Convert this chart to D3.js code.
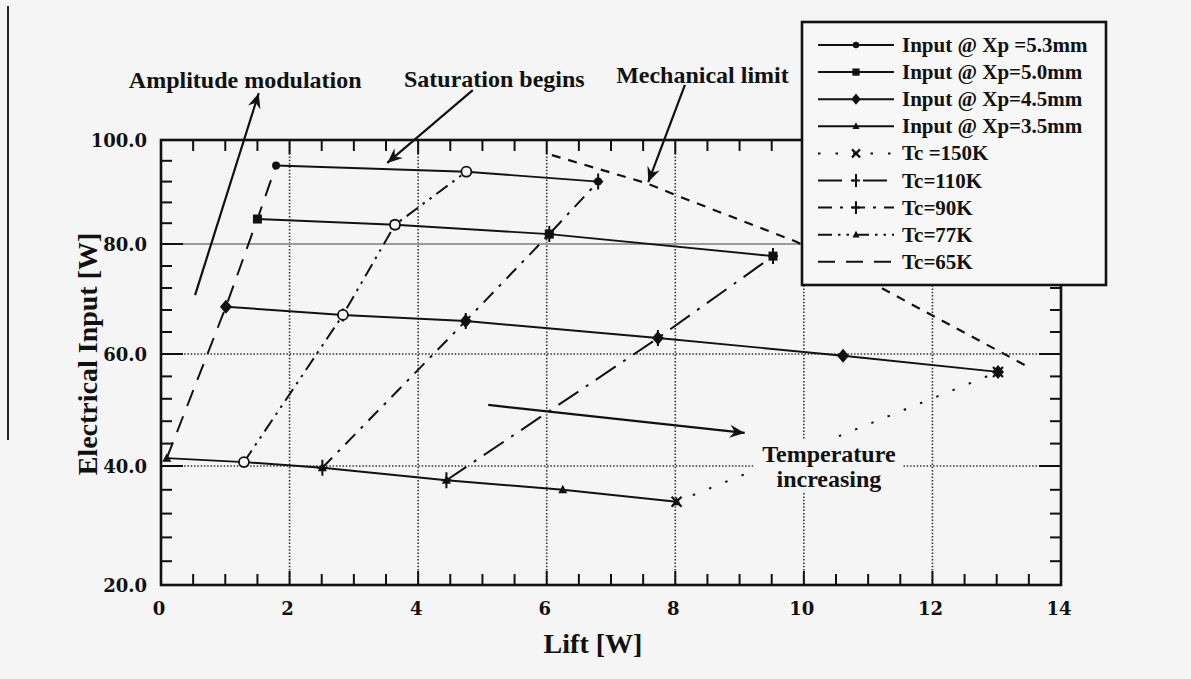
<!DOCTYPE html>
<html><head><meta charset="utf-8">
<script src="https://cdn.jsdelivr.net/npm/d3@7"></script>
<style>body{margin:0;background:#f5f5f5}svg{display:block}</style>
</head><body>
<svg id="c" width="1191" height="679"></svg>
<script>
// ---------- data ----------
const xTicks = [0, 2, 4, 6, 8, 10, 12, 14];
const xTickLabels = ["0", "2", "4", "6", "8", "10", "12", "14"];
const yTicks = [20, 40, 60, 80, 100];
const yTickLabels = ["20.0", "40.0", "60.0", "80.0", "100.0"];

// Input @ Xp lines (Lift [W], Electrical Input [W])
const xp53Lift = [1.79, 4.75, 6.80];
const xp53Input = [95.1, 93.9, 92.0];
const xp50Lift = [1.50, 3.64, 6.04, 9.52];
const xp50Input = [84.8, 83.7, 81.9, 77.8];
const xp45Lift = [1.01, 2.83, 4.74, 7.73, 10.61, 13.02];
const xp45Input = [68.6, 67.1, 66.0, 62.9, 59.7, 56.8];
const xp35Lift = [0.09, 1.29, 2.51, 4.44, 6.25, 8.02];
const xp35Input = [41.4, 40.7, 39.7, 37.6, 36.0, 34.0];

// Tc lines
const tc150Lift = [8.02, 13.02];
const tc150Input = [34.0, 56.8];
const tc110Lift = [4.44, 7.73, 9.52];
const tc110Input = [37.6, 62.9, 77.8];
const tc90Lift = [2.51, 4.74, 6.04, 6.80];
const tc90Input = [39.7, 66.0, 81.9, 92.0];
const tc77Lift = [1.29, 2.83, 3.64, 4.75];
const tc77Input = [40.7, 67.1, 83.7, 93.9];
const tc65Lift = [0.09, 1.01, 1.50, 1.79];
const tc65Input = [41.4, 68.6, 84.8, 95.1];

// Mechanical limit curve
const mechLift = [6.08, 7.55, 8.07, 9.89, 11.65, 13.49];
const mechInput = [97.1, 91.7, 89.1, 80.4, 69.2, 57.7];

const legendLabels = ["Input @ Xp =5.3mm", "Input @ Xp=5.0mm", "Input @ Xp=4.5mm", "Input @ Xp=3.5mm",
  "Tc =150K", "Tc=110K", "Tc=90K", "Tc=77K", "Tc=65K"];

// ---------- setup ----------
const svg = d3.select("#c");
const BG = "#f5f5f5";
svg.append("rect").attr("width", 1191).attr("height", 679).attr("fill", BG);
// scan edge
svg.append("line").attr("x1", 8).attr("x2", 8).attr("y1", 6).attr("y2", 440)
  .attr("stroke", "#222").attr("stroke-width", 2);

const x = d3.scaleLinear().domain([0, 14]).range([161, 1061]);
const y = d3.scaleLinear().domain([20, 40, 60, 80, 100]).range([585, 466, 354, 244, 140]);
const [X0, X1] = x.range();
const Y0 = y(20), Y1 = y(100);

const zip = (a, b) => a.map((v, i) => [v, b[i]]);
const line = d3.line().x(d => x(d[0])).y(d => y(d[1]));

// ---------- grid ----------
const grid = svg.append("g");
xTicks.filter(v => v > 0 && v < 14).forEach(v => {
  grid.append("line").attr("x1", x(v)).attr("x2", x(v)).attr("y1", Y1).attr("y2", Y0)
    .attr("stroke", "#333").attr("stroke-width", 1.6).attr("stroke-dasharray", "1.5,1.8");
});
yTicks.filter(v => v > 20 && v < 100).forEach(v => {
  const solid = v === 80;
  grid.append("line").attr("x1", X0).attr("x2", X1).attr("y1", y(v)).attr("y2", y(v))
    .attr("stroke", solid ? "#9a9a9a" : "#333").attr("stroke-width", solid ? 1.8 : 1.6)
    .attr("stroke-dasharray", solid ? null : "1.5,1.8");
});

// ---------- series ----------
const xpSeries = [
  {pts: zip(xp53Lift, xp53Input), sym: "circle"},
  {pts: zip(xp50Lift, xp50Input), sym: "square"},
  {pts: zip(xp45Lift, xp45Input), sym: "diamond"},
  {pts: zip(xp35Lift, xp35Input), sym: "triangle"}
];
const tcSeries = [
  {pts: zip(tc150Lift, tc150Input), dash: "2.5,15", sym: "x", legSym: "x"},
  {pts: zip(tc110Lift, tc110Input), dash: "24,9,3,9", sym: "plus", legSym: "plus"},
  {pts: zip(tc90Lift, tc90Input), dash: "14,8,3,8", sym: "plus", legSym: "plus"},
  {pts: zip(tc77Lift, tc77Input), dash: "14,6,2.5,6,2.5,6", sym: "ocircle", legSym: "triangle"},
  {pts: zip(tc65Lift, tc65Input), dash: "17,11", sym: null, legSym: null}
];

function marker(g, sym, cx, cy, scale = 1) {
  const s = scale;
  if (!sym) return;
  if (sym === "circle") g.append("circle").attr("cx", cx).attr("cy", cy).attr("r", 4 * s).attr("fill", "#111");
  else if (sym === "square") g.append("rect").attr("x", cx - 4.5 * s).attr("y", cy - 4.5 * s)
    .attr("width", 9 * s).attr("height", 9 * s).attr("fill", "#111");
  else if (sym === "diamond") g.append("path")
    .attr("d", `M${cx},${cy - 7 * s}L${cx + 6 * s},${cy}L${cx},${cy + 7 * s}L${cx - 6 * s},${cy}Z`).attr("fill", "#111");
  else if (sym === "triangle") g.append("path")
    .attr("d", `M${cx},${cy - 5 * s}L${cx + 4.5 * s},${cy + 3.5 * s}L${cx - 4.5 * s},${cy + 3.5 * s}Z`).attr("fill", "#111");
  else if (sym === "x") g.append("path")
    .attr("d", `M${cx - 5 * s},${cy - 5 * s}L${cx + 5 * s},${cy + 5 * s}M${cx - 5 * s},${cy + 5 * s}L${cx + 5 * s},${cy - 5 * s}`)
    .attr("stroke", "#111").attr("stroke-width", 2.2);
  else if (sym === "plus") g.append("path")
    .attr("d", `M${cx},${cy - 8 * s}L${cx},${cy + 8 * s}M${cx - 5 * s},${cy}L${cx + 5 * s},${cy}`)
    .attr("stroke", "#111").attr("stroke-width", 2);
  else if (sym === "ocircle") g.append("circle").attr("cx", cx).attr("cy", cy).attr("r", 5 * s)
    .attr("fill", BG).attr("stroke", "#111").attr("stroke-width", 1.8);
}

const plot = svg.append("g");
// mechanical limit curve
plot.append("path").attr("d", line(zip(mechLift, mechInput))).attr("fill", "none")
  .attr("stroke", "#111").attr("stroke-width", 2.2).attr("stroke-dasharray", "9,8");
tcSeries.forEach(s => {
  plot.append("path").attr("d", line(s.pts)).attr("fill", "none")
    .attr("stroke", "#111").attr("stroke-width", 2).attr("stroke-dasharray", s.dash);
});
xpSeries.forEach(s => {
  plot.append("path").attr("d", line(s.pts)).attr("fill", "none")
    .attr("stroke", "#111").attr("stroke-width", 1.9);
});
const mk = svg.append("g");
xpSeries.forEach(s => s.pts.forEach(p => marker(mk, s.sym, x(p[0]), y(p[1]))));
tcSeries.forEach(s => s.pts.forEach(p => marker(mk, s.sym, x(p[0]), y(p[1]))));

// ---------- frame & ticks ----------
const fr = svg.append("g").attr("stroke", "#111");
fr.append("rect").attr("x", X0).attr("y", Y1).attr("width", X1 - X0).attr("height", Y0 - Y1)
  .attr("fill", "none").attr("stroke-width", 2.6);
const xMinor = d3.range(0.5, 14, 0.5);
xMinor.forEach(v => {
  const L = (v % 2 === 0) ? 14 : 11;
  fr.append("line").attr("x1", x(v)).attr("x2", x(v)).attr("y1", Y0).attr("y2", Y0 - L).attr("stroke-width", 2);
  fr.append("line").attr("x1", x(v)).attr("x2", x(v)).attr("y1", Y1).attr("y2", Y1 + L).attr("stroke-width", 2);
});
const yMinor = d3.range(24, 100, 4);
yMinor.forEach(v => {
  const L = (v % 20 === 0) ? 22 : 11;
  fr.append("line").attr("y1", y(v)).attr("y2", y(v)).attr("x1", X0).attr("x2", X0 + L).attr("stroke-width", 2);
  fr.append("line").attr("y1", y(v)).attr("y2", y(v)).attr("x1", X1).attr("x2", X1 - L).attr("stroke-width", 2);
});

// tick labels
const tl = svg.append("g").attr("font-family", "'DejaVu Serif', serif").attr("font-weight", "bold")
  .attr("font-size", 18).attr("fill", "#111");
xTicks.forEach((v, i) => tl.append("text").attr("x", x(v) - 2).attr("y", Y0 + 30)
  .attr("text-anchor", "middle").text(xTickLabels[i]));
yTicks.forEach((v, i) => tl.append("text").attr("x", X0 - 14).attr("y", y(v) + 6.5)
  .attr("text-anchor", "end").text(yTickLabels[i]));

// axis titles
const serif = "'Liberation Serif', 'Times New Roman', serif";
svg.append("text").attr("x", 593).attr("y", 653).attr("text-anchor", "middle")
  .attr("font-family", serif).attr("font-weight", "bold").attr("font-size", 28).attr("fill", "#111")
  .text("Lift [W]");
svg.append("text").attr("transform", `translate(97,${y(60)}) rotate(-90)`).attr("text-anchor", "middle")
  .attr("font-family", serif).attr("font-weight", "bold").attr("font-size", 28).attr("fill", "#111")
  .text("Electrical Input [W]");

// ---------- annotations ----------
const defs = svg.append("defs");
defs.append("marker").attr("id", "ah").attr("viewBox", "-16 -8 18 16").attr("refX", 0).attr("refY", 0)
  .attr("markerWidth", 18).attr("markerHeight", 16).attr("markerUnits", "userSpaceOnUse").attr("orient", "auto")
  .append("path").attr("d", "M0,0L-15,-6.5L-10,0L-15,6.5Z").attr("fill", "#111");

const arrows = [
  {from: [0.53, 70.7], to: [1.52, 109.0]},
  {from: [4.85, 109.6], to: [3.52, 95.6]},
  {from: [8.15, 110.6], to: [7.58, 91.9]},
  {from: [5.09, 50.9], to: [9.08, 45.9]}
];
arrows.forEach(a => svg.append("line")
  .attr("x1", x(a.from[0])).attr("y1", y(a.from[1])).attr("x2", x(a.to[0])).attr("y2", y(a.to[1]))
  .attr("stroke", "#111").attr("stroke-width", 2.2).attr("marker-end", "url(#ah)"));

const notes = [
  {t: "Amplitude modulation", at: [-0.50, 110.0], anchor: "start"},
  {t: "Saturation begins", at: [3.78, 110.1], anchor: "start"},
  {t: "Mechanical limit", at: [7.08, 110.9], anchor: "start"}
];
notes.forEach(n => svg.append("text").attr("x", x(n.at[0])).attr("y", y(n.at[1]))
  .attr("text-anchor", n.anchor).attr("font-family", serif).attr("font-weight", "bold")
  .attr("font-size", 24).attr("fill", "#111").text(n.t));

const tg = svg.append("g");
const tbg = tg.append("rect").attr("fill", BG);
const tt = tg.append("g").attr("font-family", serif).attr("font-weight", "bold").attr("font-size", 24)
  .attr("fill", "#111").attr("text-anchor", "middle");
tt.append("text").attr("x", x(10.39)).attr("y", y(40.7)).text("Temperature");
tt.append("text").attr("x", x(10.39)).attr("y", y(36.5)).text("increasing");
const bb = tt.node().getBBox();
tbg.attr("x", bb.x - 8).attr("y", bb.y - 2).attr("width", bb.width + 14).attr("height", bb.height + 2);

// ---------- legend ----------
const lg = svg.append("g");
lg.append("rect").attr("x", 802).attr("y", 22).attr("width", 304).attr("height", 263)
  .attr("fill", "#f7f7f7").attr("stroke", "#111").attr("stroke-width", 2.6);
const legItems = [
  ...xpSeries.map(s => ({dash: null, sym: s.sym})),
  ...tcSeries.map(s => ({dash: s.dash, sym: s.legSym}))
];
legItems.forEach((it, i) => {
  const ry = 45 + i * 27.1;
  lg.append("line").attr("x1", 818).attr("x2", 894).attr("y1", ry).attr("y2", ry)
    .attr("stroke", "#111").attr("stroke-width", 2).attr("stroke-dasharray", it.dash);
  marker(lg, it.sym, 856, ry, 0.8);
  lg.append("text").attr("x", 902).attr("y", ry + 7).attr("font-family", serif).attr("font-weight", "bold")
    .attr("font-size", 21).attr("fill", "#111").text(legendLabels[i]);
});
</script>
</body></html>
